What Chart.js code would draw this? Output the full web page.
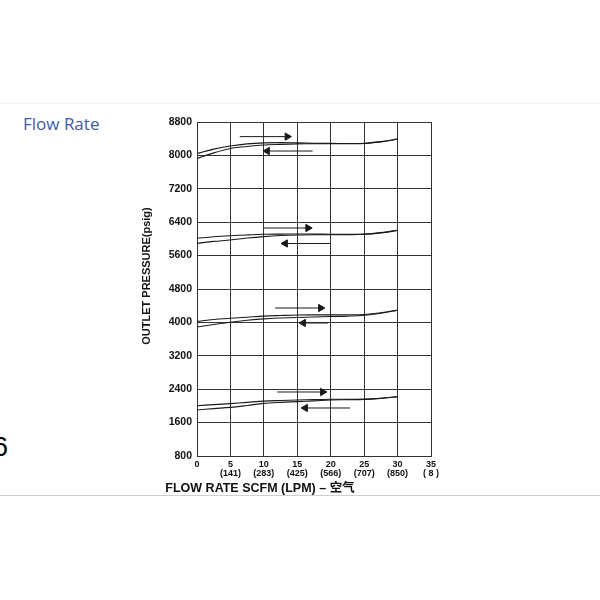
<!DOCTYPE html>
<html>
<head>
<meta charset="utf-8">
<script src="https://cdn.jsdelivr.net/npm/chart.js@4.4.1/dist/chart.umd.min.js"></script>
<style>
  html, body { margin: 0; padding: 0; background: #ffffff; }
  body { width: 600px; height: 600px; position: relative; overflow: hidden; }
  #wrap { position: absolute; left: 0; top: 0; width: 600px; height: 600px; }
  .rule { position: absolute; left: 0; width: 600px; height: 1px; }
  #ruleTop { top: 103px; background: #f1f1f1; }
  #ruleBottom { top: 495px; background: #cfcfcf; }
  #sideTitle { position: absolute; left: 23px; top: 112px; font: 17px "Open Sans", "DejaVu Sans", sans-serif; color: #3f5aa6; white-space: nowrap; }
  #stepNo { position: absolute; left: -7px; top: 432px; font: 27px "Liberation Sans", Arial, sans-serif; color: #000; }
</style>
</head>
<body>
<div class="rule" id="ruleTop"></div>
<div class="rule" id="ruleBottom"></div>
<div id="sideTitle">Flow Rate</div>
<div id="stepNo">6</div>
<div id="wrap"><canvas id="chart" width="600" height="600"></canvas></div>
<script>
// Flow rate (SCFM) sample points along each regulation curve
const flowScfm = [0, 2.5, 5, 7.5, 10, 12.5, 15, 17.5, 20, 22.5, 25, 27.5, 30];

// Outlet pressure (psig) for four set points; two traces each (rising / falling flow)
const p8000Rise = [8045, 8150, 8225, 8275, 8300, 8305, 8300, 8292, 8288, 8286, 8290, 8330, 8390];
const p8000Fall = [7925, 8060, 8165, 8215, 8250, 8265, 8275, 8280, 8282, 8282, 8285, 8325, 8385];
const p6000Rise = [6015, 6050, 6075, 6095, 6110, 6115, 6118, 6115, 6112, 6110, 6115, 6150, 6205];
const p6000Fall = [5895, 5940, 5975, 6020, 6055, 6080, 6095, 6100, 6100, 6102, 6110, 6145, 6200];
const p4000Rise = [4025, 4070, 4100, 4125, 4150, 4165, 4178, 4180, 4180, 4182, 4190, 4230, 4295];
const p4000Fall = [3888, 3950, 4005, 4050, 4085, 4105, 4118, 4130, 4140, 4150, 4170, 4220, 4290];
const p2000Rise = [2005, 2030, 2055, 2085, 2115, 2130, 2142, 2150, 2158, 2160, 2162, 2185, 2222];
const p2000Fall = [1902, 1935, 1965, 2010, 2060, 2085, 2102, 2120, 2140, 2148, 2155, 2180, 2220];

// Direction arrows: start flow, end flow (arrow head), pressure level
const arrowStart = [6.4, 17.3, 9.9, 20.0, 11.7, 19.6, 12.0, 22.9];
const arrowEnd   = [13.5, 10.5, 16.6, 13.2, 18.5, 15.9, 18.8, 16.2];
const arrowPsig  = [8450, 8105, 6261, 5890, 4345, 3986, 2333, 1950];

// Axis tick labels
const yTicks = [800, 1600, 2400, 3200, 4000, 4800, 5600, 6400, 7200, 8000, 8800];
const xTicks = [0, 5, 10, 15, 20, 25, 30, 35];
const lpmLabels = ['', '(141)', '(283)', '(425)', '(566)', '(707)', '(850)', '( 8 )'];

const xTitle = 'FLOW RATE SCFM (LPM) \u2013 空气';
const yTitle = 'OUTLET PRESSURE(psig)';

const INK = '#1a1a1a';
const GRID = '#333333';

function curve(values) {
  return {
    data: flowScfm.map((x, i) => ({ x: x, y: values[i] })),
    showLine: true,
    borderColor: INK,
    borderWidth: 1.1,
    pointRadius: 0,
    tension: 0.35,
    fill: false
  };
}

function arrow(i) {
  const right = arrowEnd[i] > arrowStart[i];
  return {
    data: [{ x: arrowStart[i], y: arrowPsig[i] }, { x: arrowEnd[i], y: arrowPsig[i] }],
    showLine: true,
    borderColor: INK,
    borderWidth: 1,
    pointRadius: [0, 4.2],
    pointStyle: 'triangle',
    rotation: right ? 90 : 270,
    pointBackgroundColor: INK,
    pointBorderColor: INK,
    pointBorderWidth: 1,
    fill: false
  };
}

const datasets = [
  curve(p8000Rise), curve(p8000Fall),
  curve(p6000Rise), curve(p6000Fall),
  curve(p4000Rise), curve(p4000Fall),
  curve(p2000Rise), curve(p2000Fall)
];
arrowStart.forEach((_, i) => datasets.push(arrow(i)));

// Axis captions drawn at fixed spots beside the grid
const captions = {
  id: 'captions',
  afterDraw(chart) {
    const ctx = chart.ctx;
    ctx.save();
    ctx.fillStyle = '#111';
    ctx.textAlign = 'center';
    ctx.textBaseline = 'middle';
    ctx.font = 'bold 12.5px "Liberation Sans", Arial, "Noto Sans CJK SC", sans-serif';
    ctx.fillText(xTitle, 260, 489);
    ctx.translate(147, 276);
    ctx.rotate(-Math.PI / 2);
    ctx.font = 'bold 11px "Liberation Sans", Arial, sans-serif';
    ctx.fillText(yTitle, 0, 0);
    ctx.restore();
  }
};

new Chart(document.getElementById('chart'), {
  type: 'scatter',
  data: { datasets: datasets },
  plugins: [captions],
  options: {
    responsive: false,
    animation: false,
    layout: { padding: { left: 137, right: 169, top: 122, bottom: 100 } },
    plugins: { legend: { display: false }, tooltip: { enabled: false } },
    scales: {
      x: {
        type: 'linear',
        min: 0, max: 35,
        afterFit(s) { s.height = 44; },
        afterBuildTicks(s) { s.ticks = xTicks.map(v => ({ value: v })); },
        grid: { color: GRID, lineWidth: 1, drawTicks: false },
        border: { color: GRID, width: 1 },
        ticks: {
          padding: 4,
          color: '#111',
          maxRotation: 0,
          autoSkip: false,
          font: { family: '"Liberation Sans", Arial, sans-serif', size: 9, weight: 'bold', lineHeight: 1.0 },
          callback(v) {
            const i = xTicks.indexOf(v);
            return lpmLabels[i] ? [String(v), lpmLabels[i]] : String(v);
          }
        }
      },
      y: {
        type: 'linear',
        min: 800, max: 8800,
        afterFit(s) { s.width = 60; },
        afterBuildTicks(s) { s.ticks = yTicks.map(v => ({ value: v })); },
        grid: { color: GRID, lineWidth: 1, drawTicks: false },
        border: { color: GRID, width: 1 },
        ticks: {
          padding: 5,
          color: '#111',
          autoSkip: false,
          font: { family: '"Liberation Sans", Arial, sans-serif', size: 10.5, weight: 'bold' },
          callback(v) { return String(v); }
        }
      }
    }
  }
});
</script>
</body>
</html>
